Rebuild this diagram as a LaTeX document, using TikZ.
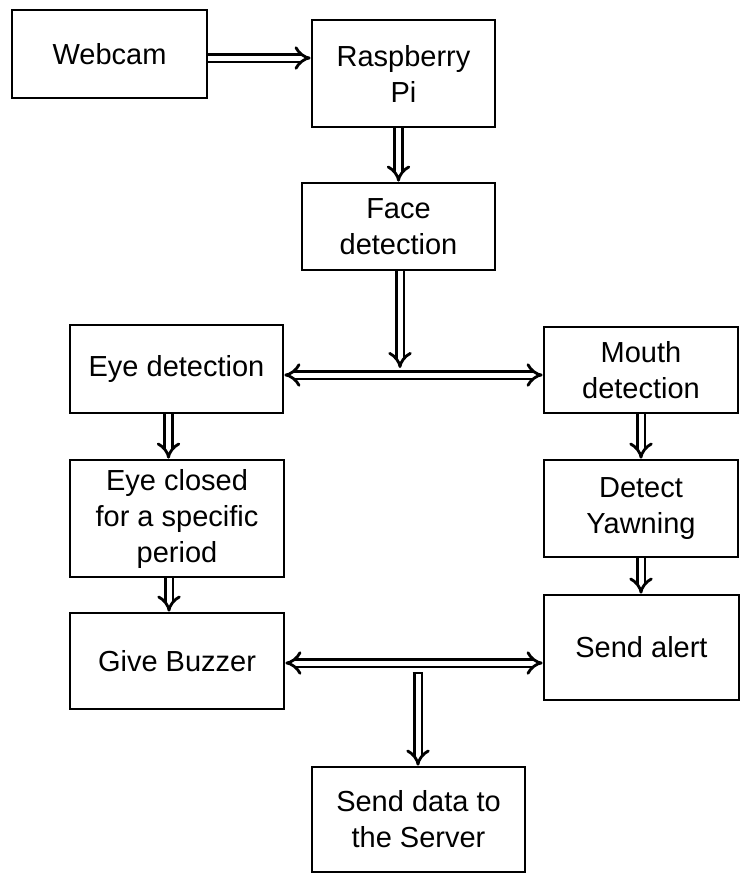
\documentclass[tikz,border=0pt]{standalone}
\usepackage{fontspec}
\setmainfont{Liberation Sans}
\usetikzlibrary{arrows.meta}
\begin{document}
\begin{tikzpicture}[x=1pt,y=-1pt,
  box/.style={draw, line width=2.8pt, rectangle, align=center, inner sep=0pt,
    font=\fontsize{29}{36}\selectfont},
  dbl/.style={draw, line width=2.8pt, double distance=5pt, -{Implies}},
  dbl2/.style={draw, line width=2.8pt, double distance=5pt, {Implies}-{Implies}}]
\useasboundingbox (0,0) rectangle (741,873);
\node[box, minimum width=195pt, minimum height=88pt] (webcam) at (109.5,54) {Webcam};
\node[box, minimum width=183pt, minimum height=107pt] (rpi) at (403.5,73.5) {Raspberry\\Pi};
\node[box, minimum width=193pt, minimum height=87pt] (face) at (398.5,226.5) {Face\\detection};
\node[box, minimum width=213pt, minimum height=88pt] (eye) at (176.5,369) {Eye detection};
\node[box, minimum width=194pt, minimum height=86pt] (mouth) at (641,370) {Mouth\\detection};
\node[box, minimum width=214pt, minimum height=117pt] (closed) at (177,518.5) {Eye closed\\for a specific\\period};
\node[box, minimum width=194pt, minimum height=97pt] (yawn) at (641,508.5) {Detect\\Yawning};
\node[box, minimum width=214pt, minimum height=96pt] (buzzer) at (177,661) {Give Buzzer};
\node[box, minimum width=195pt, minimum height=105pt] (alert) at (641.5,647.5) {Send alert};
\node[box, minimum width=213pt, minimum height=105pt] (server) at (418.5,819.5) {Send data to\\the Server};
\coordinate (hub1) at (400,368);
\coordinate (hub2) at (418,673);
% connectors
\draw[dbl] ([yshift=-4pt]webcam.east) -- ([yshift=-4pt]webcam.east -| rpi.west);
\draw[dbl] (face.north |- rpi.south) -- (face.north);
\draw[dbl] (hub1 |- face.south) -- (hub1);
\draw[dbl2] ([yshift=-6pt]eye.east) -- ([yshift=-6pt]eye.east -| mouth.west);
\draw[dbl] ([xshift=-8pt]eye.south) -- ([xshift=-8pt]eye.south |- closed.north);
\draw[dbl] ([xshift=-8pt]closed.south) -- ([xshift=-8pt]closed.south |- buzzer.north);
\draw[dbl] (mouth.south) -- (mouth.south |- yawn.north);
\draw[dbl] (yawn.south) -- (yawn.south |- alert.north);
\draw[dbl2] ([yshift=-2pt]buzzer.east) -- ([yshift=-2pt]buzzer.east -| alert.west);
\draw[dbl] (hub2) -- (hub2 |- server.north);
\draw[line width=2.8pt] ([xshift=-5.3pt]hub2) -- ([xshift=5.3pt]hub2);
\end{tikzpicture}
\end{document}
